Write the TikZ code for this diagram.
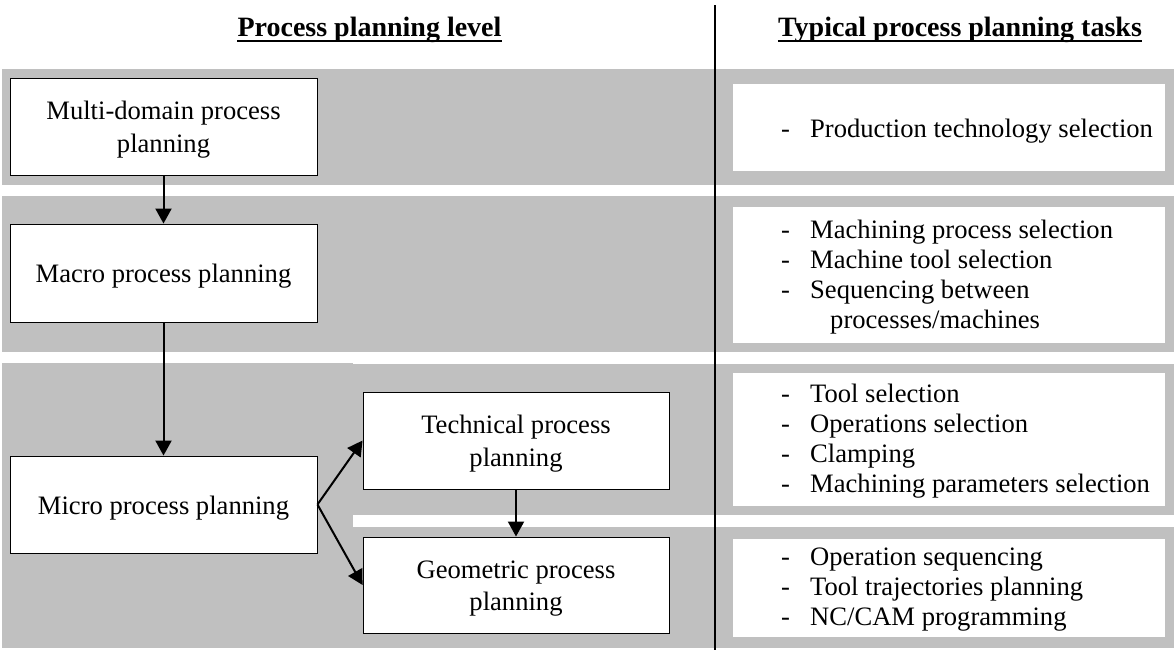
\documentclass[tikz,border=0pt]{standalone}
\usepackage{fontspec}
\setmainfont{Liberation Serif}
\usetikzlibrary{arrows.meta,calc}
\definecolor{bandgray}{RGB}{192,192,192}
\newcommand{\tasksitem}[1]{\makebox[29pt][l]{-}#1}
% centred box text, set a little below the geometric centre
\newcommand{\stagetext}[1]{\raisebox{-3pt}[\height][\depth]{\begin{tabular}{@{}c@{}}#1\end{tabular}}}
\tikzset{
  band/.style={fill=bandgray, draw=none},
  stagebox/.style={draw=black, line width=0.9pt, fill=white, inner sep=0pt,
    font=\fontsize{26.6}{32.5}\selectfont},
  taskbg/.style={fill=white, draw=none},
  tasklist/.style={anchor=base west, inner sep=0pt,
    font=\fontsize{26.6}{30.3}\selectfont},
  flow/.style={line width=2pt, -{Triangle[length=15pt,width=16pt]}},
  header/.style={font=\fontsize{28}{32}\selectfont\bfseries, inner sep=0pt, anchor=base},
  headrule/.style={line width=1.8pt},
  divider/.style={line width=2pt},
}
\begin{document}
\begin{tikzpicture}[x=1pt,y=-1pt]
\useasboundingbox (0,0) rectangle (1176,653);

% grey bands for the planning levels
\fill[band] (2,69) rectangle (1174,185);
\fill[band] (2,196) rectangle (1174,352);
\fill[band] (2,363) rectangle (353,648);
\fill[band] (353,364) rectangle (1174,515);
\fill[band] (353,527) rectangle (1174,648);

% column divider
\coordinate (divtop) at (714.5,5);
\coordinate (divbot) at (714.5,650);
\draw[divider] (divtop) -- (divbot);

% column headers
\node[header] (hdrL) at (369.5,36) {Process planning level};
\node[header] (hdrR) at (960,36) {Typical process planning tasks};
\draw[headrule] ($(hdrL.base west)+(0,5)$) -- ($(hdrL.base east)+(0,5)$);
\draw[headrule] ($(hdrR.base west)+(0,5)$) -- ($(hdrR.base east)+(0,5)$);

% planning level boxes
\node[stagebox, minimum width=307pt, minimum height=97pt] (multi) at (163.5,126.5)
  {\stagetext{Multi-domain process\\planning}};
\node[stagebox, minimum width=307pt, minimum height=98pt] (macro) at (163.5,273)
  {\stagetext{Macro process planning}};
\node[stagebox, minimum width=307pt, minimum height=97pt] (micro) at (163.5,504.5)
  {\stagetext{Micro process planning}};
\node[stagebox, minimum width=306pt, minimum height=97pt] (tech) at (516,440.5)
  {\stagetext{Technical process\\planning}};
\node[stagebox, minimum width=306pt, minimum height=96pt] (geo) at (516,585)
  {\stagetext{Geometric process\\planning}};

% flow between levels
\draw[flow] (multi.south) -- (macro.north);
\draw[flow] (macro.south) -- (micro.north);
\draw[flow] (micro.east) -- (tech.west);
\draw[flow] (micro.east) -- (geo.west);
\draw[flow] (tech.south) -- (geo.north);

% task panels
\fill[taskbg] (733,84) rectangle (1165,171);
\fill[taskbg] (733,207) rectangle (1165,343);
\fill[taskbg] (733,373) rectangle (1165,506);
\fill[taskbg] (733,539) rectangle (1165,637);

\node[tasklist] (tasksA) at (781,137) {\begin{tabular}[t]{@{}l@{}}
  \tasksitem{Production technology selection}
\end{tabular}};
\node[tasklist] (tasksB) at (781,238) {\begin{tabular}[t]{@{}l@{}}
  \tasksitem{Machining process selection}\\
  \tasksitem{Machine tool selection}\\
  \tasksitem{Sequencing between}\\
  \hspace*{49pt}processes/machines
\end{tabular}};
\node[tasklist] (tasksC) at (781,402) {\begin{tabular}[t]{@{}l@{}}
  \tasksitem{Tool selection}\\
  \tasksitem{Operations selection}\\
  \tasksitem{Clamping}\\
  \tasksitem{Machining parameters selection}
\end{tabular}};
\node[tasklist] (tasksD) at (781,565) {\begin{tabular}[t]{@{}l@{}}
  \tasksitem{Operation sequencing}\\
  \tasksitem{Tool trajectories planning}\\
  \tasksitem{NC/CAM programming}
\end{tabular}};
\end{tikzpicture}
\end{document}
